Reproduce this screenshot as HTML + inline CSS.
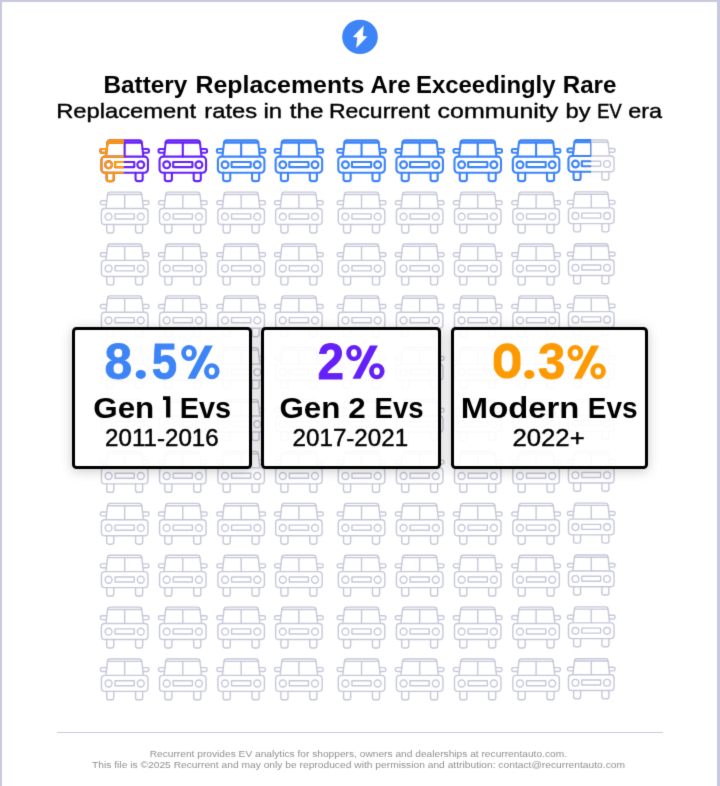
<!DOCTYPE html>
<html><head><meta charset="utf-8">
<style>
html,body{margin:0;padding:0;background:#fff;}
body{width:720px;height:786px;position:relative;overflow:hidden;font-family:"Liberation Sans",sans-serif;color:#000;}
svg{position:absolute;left:0;top:0;}
text{font-family:"Liberation Sans",sans-serif;white-space:pre;}
.bl{position:absolute;left:0;top:0;width:2.4px;height:786px;background:#c8c9dc;}
.bt{position:absolute;left:0;top:0;width:720px;height:2.3px;background:#c8c9dc;}
.br{position:absolute;right:0;top:0;width:2.8px;height:786px;background:#c8c9dc;}
.box{position:absolute;top:327px;height:142px;box-sizing:border-box;border:3px solid #000;border-radius:4.5px;background:rgba(255,255,255,0.9);box-shadow:0 2px 12px rgba(0,0,0,0.21);}
.ln{position:absolute;left:56.7px;top:731.7px;width:606.5px;height:1.5px;background:#c8c9dc;}
</style></head><body>
<svg width="0" height="0" style="position:absolute"><filter id="sb" x="0" y="0" width="100%" height="100%" color-interpolation-filters="sRGB"><feConvolveMatrix order="3" kernelMatrix="0.0183 0.1353 0.0183 0.1353 1.0000 0.1353 0.0183 0.1353 0.0183" edgeMode="duplicate" preserveAlpha="true"/></filter></svg>
<div id="wrap" style="position:absolute;left:0;top:0;width:720px;height:786px;overflow:hidden;background:#fff;filter:url(#sb)">
<svg width="720" height="786" viewBox="0 0 720 786">
<defs>
<g id="car" fill="none" stroke-linecap="round" stroke-linejoin="round"><path d="M6.55 16 L8 3.4 Q8.2 0.6 10.6 0.6 L39.8 0.6 Q42.2 0.6 42.4 3.4 L43.85 16"/><path d="M8.1 2.95 H42.3 M25.2 2.95 V16.9"/><path d="M7.2 9.25 H2.3 Q0.95 9.25 0.95 10.6 V11.7 Q0.95 13.05 2.3 13.05 H6.75 M43.2 9.25 H48.1 Q49.45 9.25 49.45 10.6 V11.7 Q49.45 13.05 48.1 13.05 H43.65"/><rect x="1.95" y="16.95" width="46.5" height="16.05" rx="3.4"/><circle cx="9.1" cy="25.1" r="3.45"/><circle cx="41.3" cy="25.1" r="3.45"/><rect x="15.6" y="22.3" width="19.2" height="5.1"/><path d="M7.2 33.0 V39.3 Q7.2 41.4 9.3 41.4 H12.2 Q14.3 41.4 14.3 39.3 V33.0 M36.1 33.0 V39.3 Q36.1 41.4 38.2 41.4 H41.1 Q43.2 41.4 43.2 39.3 V33.0"/></g>
<rect id="roof" x="8" y="0.6" width="34.4" height="2.35" rx="0.8" stroke="none"/>
<clipPath id="clipL"><rect x="-2" y="-2" width="26.4" height="50"/></clipPath>
<clipPath id="clipR"><rect x="-2" y="-2" width="27.1" height="50"/></clipPath>
</defs>
<ellipse cx="360" cy="36.9" rx="17.85" ry="17.2" fill="#3d84f7"/>
<path d="M363.7 25.6 L352.8 36.9 L357.3 37.4 L356.2 47.9 L367.4 36.4 L362.9 35.9 Z" fill="#fff"/>
<g transform="translate(99.47 139.70)" stroke="#6520f9" stroke-width="2.1" ><use href="#car"/><use href="#roof" fill="#6520f9" fill-opacity="0.6"/></g>
<g transform="translate(99.47 139.70)" stroke="#fd9a02" stroke-width="2.1" clip-path="url(#clipL)"><use href="#car"/><use href="#roof" fill="#fd9a02" fill-opacity="0.6"/></g>
<g transform="translate(157.60 139.70)" stroke="#6520f9" stroke-width="2.1" ><use href="#car"/><use href="#roof" fill="#6520f9" fill-opacity="0.6"/></g>
<g transform="translate(215.95 139.70)" stroke="#3d84f7" stroke-width="2.1" ><use href="#car"/><use href="#roof" fill="#3d84f7" fill-opacity="0.6"/></g>
<g transform="translate(273.70 139.70)" stroke="#3d84f7" stroke-width="2.1" ><use href="#car"/><use href="#roof" fill="#3d84f7" fill-opacity="0.6"/></g>
<g transform="translate(336.35 139.70)" stroke="#3d84f7" stroke-width="2.1" ><use href="#car"/><use href="#roof" fill="#3d84f7" fill-opacity="0.6"/></g>
<g transform="translate(394.47 139.70)" stroke="#3d84f7" stroke-width="2.1" ><use href="#car"/><use href="#roof" fill="#3d84f7" fill-opacity="0.6"/></g>
<g transform="translate(452.55 139.70)" stroke="#3d84f7" stroke-width="2.1" ><use href="#car"/><use href="#roof" fill="#3d84f7" fill-opacity="0.6"/></g>
<g transform="translate(510.90 139.70)" stroke="#3d84f7" stroke-width="2.1" ><use href="#car"/><use href="#roof" fill="#3d84f7" fill-opacity="0.6"/></g>
<g transform="translate(566.55 139.42) scale(0.98)" stroke="#c6c8d9" stroke-width="1.429" ><use href="#car"/></g>
<g transform="translate(566.55 139.42) scale(0.98)" stroke="#3d84f7" stroke-width="2.143" clip-path="url(#clipR)"><use href="#car"/><use href="#roof" fill="#3d84f7" fill-opacity="0.6"/></g>
<g transform="translate(99.47 191.57)" stroke="#c6c8d9" stroke-width="1.4" ><use href="#car"/></g>
<g transform="translate(157.60 191.57)" stroke="#c6c8d9" stroke-width="1.4" ><use href="#car"/></g>
<g transform="translate(215.95 191.57)" stroke="#c6c8d9" stroke-width="1.4" ><use href="#car"/></g>
<g transform="translate(273.70 191.57)" stroke="#c6c8d9" stroke-width="1.4" ><use href="#car"/></g>
<g transform="translate(336.35 191.57)" stroke="#c6c8d9" stroke-width="1.4" ><use href="#car"/></g>
<g transform="translate(394.47 191.57)" stroke="#c6c8d9" stroke-width="1.4" ><use href="#car"/></g>
<g transform="translate(452.55 191.57)" stroke="#c6c8d9" stroke-width="1.4" ><use href="#car"/></g>
<g transform="translate(510.90 191.57)" stroke="#c6c8d9" stroke-width="1.4" ><use href="#car"/></g>
<g transform="translate(566.55 191.29) scale(0.98)" stroke="#c6c8d9" stroke-width="1.429" ><use href="#car"/></g>
<g transform="translate(99.47 243.44)" stroke="#c6c8d9" stroke-width="1.4" ><use href="#car"/></g>
<g transform="translate(157.60 243.44)" stroke="#c6c8d9" stroke-width="1.4" ><use href="#car"/></g>
<g transform="translate(215.95 243.44)" stroke="#c6c8d9" stroke-width="1.4" ><use href="#car"/></g>
<g transform="translate(273.70 243.44)" stroke="#c6c8d9" stroke-width="1.4" ><use href="#car"/></g>
<g transform="translate(336.35 243.44)" stroke="#c6c8d9" stroke-width="1.4" ><use href="#car"/></g>
<g transform="translate(394.47 243.44)" stroke="#c6c8d9" stroke-width="1.4" ><use href="#car"/></g>
<g transform="translate(452.55 243.44)" stroke="#c6c8d9" stroke-width="1.4" ><use href="#car"/></g>
<g transform="translate(510.90 243.44)" stroke="#c6c8d9" stroke-width="1.4" ><use href="#car"/></g>
<g transform="translate(566.55 243.16) scale(0.98)" stroke="#c6c8d9" stroke-width="1.429" ><use href="#car"/></g>
<g transform="translate(99.47 295.31)" stroke="#c6c8d9" stroke-width="1.4" ><use href="#car"/></g>
<g transform="translate(157.60 295.31)" stroke="#c6c8d9" stroke-width="1.4" ><use href="#car"/></g>
<g transform="translate(215.95 295.31)" stroke="#c6c8d9" stroke-width="1.4" ><use href="#car"/></g>
<g transform="translate(273.70 295.31)" stroke="#c6c8d9" stroke-width="1.4" ><use href="#car"/></g>
<g transform="translate(336.35 295.31)" stroke="#c6c8d9" stroke-width="1.4" ><use href="#car"/></g>
<g transform="translate(394.47 295.31)" stroke="#c6c8d9" stroke-width="1.4" ><use href="#car"/></g>
<g transform="translate(452.55 295.31)" stroke="#c6c8d9" stroke-width="1.4" ><use href="#car"/></g>
<g transform="translate(510.90 295.31)" stroke="#c6c8d9" stroke-width="1.4" ><use href="#car"/></g>
<g transform="translate(566.55 295.03) scale(0.98)" stroke="#c6c8d9" stroke-width="1.429" ><use href="#car"/></g>
<g transform="translate(99.47 347.18)" stroke="#c6c8d9" stroke-width="1.4" ><use href="#car"/></g>
<g transform="translate(157.60 347.18)" stroke="#c6c8d9" stroke-width="1.4" ><use href="#car"/></g>
<g transform="translate(215.95 347.18)" stroke="#c6c8d9" stroke-width="1.4" ><use href="#car"/></g>
<g transform="translate(273.70 347.18)" stroke="#c6c8d9" stroke-width="1.4" ><use href="#car"/></g>
<g transform="translate(336.35 347.18)" stroke="#c6c8d9" stroke-width="1.4" ><use href="#car"/></g>
<g transform="translate(394.47 347.18)" stroke="#c6c8d9" stroke-width="1.4" ><use href="#car"/></g>
<g transform="translate(452.55 347.18)" stroke="#c6c8d9" stroke-width="1.4" ><use href="#car"/></g>
<g transform="translate(510.90 347.18)" stroke="#c6c8d9" stroke-width="1.4" ><use href="#car"/></g>
<g transform="translate(566.55 346.90) scale(0.98)" stroke="#c6c8d9" stroke-width="1.429" ><use href="#car"/></g>
<g transform="translate(99.47 399.05)" stroke="#c6c8d9" stroke-width="1.4" ><use href="#car"/></g>
<g transform="translate(157.60 399.05)" stroke="#c6c8d9" stroke-width="1.4" ><use href="#car"/></g>
<g transform="translate(215.95 399.05)" stroke="#c6c8d9" stroke-width="1.4" ><use href="#car"/></g>
<g transform="translate(273.70 399.05)" stroke="#c6c8d9" stroke-width="1.4" ><use href="#car"/></g>
<g transform="translate(336.35 399.05)" stroke="#c6c8d9" stroke-width="1.4" ><use href="#car"/></g>
<g transform="translate(394.47 399.05)" stroke="#c6c8d9" stroke-width="1.4" ><use href="#car"/></g>
<g transform="translate(452.55 399.05)" stroke="#c6c8d9" stroke-width="1.4" ><use href="#car"/></g>
<g transform="translate(510.90 399.05)" stroke="#c6c8d9" stroke-width="1.4" ><use href="#car"/></g>
<g transform="translate(566.55 398.77) scale(0.98)" stroke="#c6c8d9" stroke-width="1.429" ><use href="#car"/></g>
<g transform="translate(99.47 450.92)" stroke="#c6c8d9" stroke-width="1.4" ><use href="#car"/></g>
<g transform="translate(157.60 450.92)" stroke="#c6c8d9" stroke-width="1.4" ><use href="#car"/></g>
<g transform="translate(215.95 450.92)" stroke="#c6c8d9" stroke-width="1.4" ><use href="#car"/></g>
<g transform="translate(273.70 450.92)" stroke="#c6c8d9" stroke-width="1.4" ><use href="#car"/></g>
<g transform="translate(336.35 450.92)" stroke="#c6c8d9" stroke-width="1.4" ><use href="#car"/></g>
<g transform="translate(394.47 450.92)" stroke="#c6c8d9" stroke-width="1.4" ><use href="#car"/></g>
<g transform="translate(452.55 450.92)" stroke="#c6c8d9" stroke-width="1.4" ><use href="#car"/></g>
<g transform="translate(510.90 450.92)" stroke="#c6c8d9" stroke-width="1.4" ><use href="#car"/></g>
<g transform="translate(566.55 450.64) scale(0.98)" stroke="#c6c8d9" stroke-width="1.429" ><use href="#car"/></g>
<g transform="translate(99.47 502.79)" stroke="#c6c8d9" stroke-width="1.4" ><use href="#car"/></g>
<g transform="translate(157.60 502.79)" stroke="#c6c8d9" stroke-width="1.4" ><use href="#car"/></g>
<g transform="translate(215.95 502.79)" stroke="#c6c8d9" stroke-width="1.4" ><use href="#car"/></g>
<g transform="translate(273.70 502.79)" stroke="#c6c8d9" stroke-width="1.4" ><use href="#car"/></g>
<g transform="translate(336.35 502.79)" stroke="#c6c8d9" stroke-width="1.4" ><use href="#car"/></g>
<g transform="translate(394.47 502.79)" stroke="#c6c8d9" stroke-width="1.4" ><use href="#car"/></g>
<g transform="translate(452.55 502.79)" stroke="#c6c8d9" stroke-width="1.4" ><use href="#car"/></g>
<g transform="translate(510.90 502.79)" stroke="#c6c8d9" stroke-width="1.4" ><use href="#car"/></g>
<g transform="translate(566.55 502.51) scale(0.98)" stroke="#c6c8d9" stroke-width="1.429" ><use href="#car"/></g>
<g transform="translate(99.47 554.66)" stroke="#c6c8d9" stroke-width="1.4" ><use href="#car"/></g>
<g transform="translate(157.60 554.66)" stroke="#c6c8d9" stroke-width="1.4" ><use href="#car"/></g>
<g transform="translate(215.95 554.66)" stroke="#c6c8d9" stroke-width="1.4" ><use href="#car"/></g>
<g transform="translate(273.70 554.66)" stroke="#c6c8d9" stroke-width="1.4" ><use href="#car"/></g>
<g transform="translate(336.35 554.66)" stroke="#c6c8d9" stroke-width="1.4" ><use href="#car"/></g>
<g transform="translate(394.47 554.66)" stroke="#c6c8d9" stroke-width="1.4" ><use href="#car"/></g>
<g transform="translate(452.55 554.66)" stroke="#c6c8d9" stroke-width="1.4" ><use href="#car"/></g>
<g transform="translate(510.90 554.66)" stroke="#c6c8d9" stroke-width="1.4" ><use href="#car"/></g>
<g transform="translate(566.55 554.38) scale(0.98)" stroke="#c6c8d9" stroke-width="1.429" ><use href="#car"/></g>
<g transform="translate(99.47 606.53)" stroke="#c6c8d9" stroke-width="1.4" ><use href="#car"/></g>
<g transform="translate(157.60 606.53)" stroke="#c6c8d9" stroke-width="1.4" ><use href="#car"/></g>
<g transform="translate(215.95 606.53)" stroke="#c6c8d9" stroke-width="1.4" ><use href="#car"/></g>
<g transform="translate(273.70 606.53)" stroke="#c6c8d9" stroke-width="1.4" ><use href="#car"/></g>
<g transform="translate(336.35 606.53)" stroke="#c6c8d9" stroke-width="1.4" ><use href="#car"/></g>
<g transform="translate(394.47 606.53)" stroke="#c6c8d9" stroke-width="1.4" ><use href="#car"/></g>
<g transform="translate(452.55 606.53)" stroke="#c6c8d9" stroke-width="1.4" ><use href="#car"/></g>
<g transform="translate(510.90 606.53)" stroke="#c6c8d9" stroke-width="1.4" ><use href="#car"/></g>
<g transform="translate(566.55 606.25) scale(0.98)" stroke="#c6c8d9" stroke-width="1.429" ><use href="#car"/></g>
<g transform="translate(99.47 658.40)" stroke="#c6c8d9" stroke-width="1.4" ><use href="#car"/></g>
<g transform="translate(157.60 658.40)" stroke="#c6c8d9" stroke-width="1.4" ><use href="#car"/></g>
<g transform="translate(215.95 658.40)" stroke="#c6c8d9" stroke-width="1.4" ><use href="#car"/></g>
<g transform="translate(273.70 658.40)" stroke="#c6c8d9" stroke-width="1.4" ><use href="#car"/></g>
<g transform="translate(336.35 658.40)" stroke="#c6c8d9" stroke-width="1.4" ><use href="#car"/></g>
<g transform="translate(394.47 658.40)" stroke="#c6c8d9" stroke-width="1.4" ><use href="#car"/></g>
<g transform="translate(452.55 658.40)" stroke="#c6c8d9" stroke-width="1.4" ><use href="#car"/></g>
<g transform="translate(510.90 658.40)" stroke="#c6c8d9" stroke-width="1.4" ><use href="#car"/></g>
<g transform="translate(566.55 658.12) scale(0.98)" stroke="#c6c8d9" stroke-width="1.429" ><use href="#car"/></g>
</svg>
<div class="bt"></div><div class="bl"></div><div class="br"></div>
<div class="box" style="left:72px;width:180px"></div>
<div class="box" style="left:261px;width:180px"></div>
<div class="box" style="left:451px;width:197px"></div>
<div class="ln"></div>
<svg width="720" height="786" viewBox="0 0 720 786" style="will-change:transform">
<text id="t1w0" transform="translate(103.48 92.90) scale(1.0582 1)" font-weight="bold" font-size="23" fill="#000">Battery</text>
<text id="t1w1" transform="translate(195.44 92.90) scale(1.0828 1)" font-weight="bold" font-size="23" fill="#000">Replacements</text>
<text id="t1w2" transform="translate(370.42 92.90) scale(1.0476 1)" font-weight="bold" font-size="23" fill="#000">Are</text>
<text id="t1w3" transform="translate(416.00 92.90) scale(1.0404 1)" font-weight="bold" font-size="23" fill="#000">Exceedingly</text>
<text id="t1w4" transform="translate(562.69 92.90) scale(1.0502 1)" font-weight="bold" font-size="23" fill="#000">Rare</text>
<text id="t2w0" transform="translate(56.14 117.60) scale(1.1597 1)" font-weight="normal" font-size="20.5" fill="#000" stroke="#000" stroke-width="0.388" stroke-linejoin="round">Replacement</text>
<text id="t2w1" transform="translate(204.32 117.60) scale(1.1569 1)" font-weight="normal" font-size="20.5" fill="#000" stroke="#000" stroke-width="0.389" stroke-linejoin="round">rates</text>
<text id="t2w2" transform="translate(263.50 117.60) scale(1.1684 1)" font-weight="normal" font-size="20.5" fill="#000" stroke="#000" stroke-width="0.385" stroke-linejoin="round">in</text>
<text id="t2w3" transform="translate(289.70 117.60) scale(1.1855 1)" font-weight="normal" font-size="20.5" fill="#000" stroke="#000" stroke-width="0.380" stroke-linejoin="round">the</text>
<text id="t2w4" transform="translate(329.00 117.60) scale(1.1212 1)" font-weight="normal" font-size="20.5" fill="#000" stroke="#000" stroke-width="0.401" stroke-linejoin="round">Recurrent</text>
<text id="t2w5" transform="translate(437.52 117.60) scale(1.2187 1)" font-weight="normal" font-size="20.5" fill="#000" stroke="#000" stroke-width="0.369" stroke-linejoin="round">community</text>
<text id="t2w6" transform="translate(565.52 117.60) scale(1.1586 1)" font-weight="normal" font-size="20.5" fill="#000" stroke="#000" stroke-width="0.388" stroke-linejoin="round">by</text>
<text id="t2w7" transform="translate(597.37 117.60) scale(0.8938 1)" font-weight="normal" font-size="20.5" fill="#000" stroke="#000" stroke-width="0.503" stroke-linejoin="round">EV</text>
<text id="t2w8" transform="translate(628.27 117.60) scale(1.1436 1)" font-weight="normal" font-size="20.5" fill="#000" stroke="#000" stroke-width="0.393" stroke-linejoin="round">era</text>
<text id="p1a" transform="translate(104.55 378.60) scale(0.9900 1)" font-weight="bold" font-size="50" fill="#3d84f7" stroke="#3d84f7" stroke-width="0.808" stroke-linejoin="round">8</text>
<text id="p1c" transform="translate(151.79 378.60) scale(0.9115 1)" font-weight="bold" font-size="50" fill="#3d84f7" stroke="#3d84f7" stroke-width="0.878" stroke-linejoin="round">5</text>
<text id="p2a" transform="translate(317.41 378.60) scale(0.9520 1)" font-weight="bold" font-size="50" fill="#6520f9" stroke="#6520f9" stroke-width="0.840" stroke-linejoin="round">2</text>
<text id="p3c" transform="translate(537.93 378.60) scale(0.9813 1)" font-weight="bold" font-size="50" fill="#fd9a02" stroke="#fd9a02" stroke-width="0.815" stroke-linejoin="round">3</text>
<text id="g1w0" transform="translate(93.22 417.60) scale(1.0472 1)" font-weight="bold" font-size="30" fill="#000">Gen</text>
<text id="g1w2" transform="translate(179.80 417.60) scale(0.9625 1)" font-weight="bold" font-size="30" fill="#000">Evs</text>
<text id="g2w0" transform="translate(279.52 417.60) scale(1.0437 1)" font-weight="bold" font-size="30" fill="#000">Gen</text>
<text id="g2w1" transform="translate(348.32 417.60) scale(1.0467 1)" font-weight="bold" font-size="30" fill="#000">2</text>
<text id="g2w2" transform="translate(374.47 417.60) scale(0.9207 1)" font-weight="bold" font-size="30" fill="#000">Evs</text>
<text id="g3w0" transform="translate(460.85 417.60) scale(1.0933 1)" font-weight="bold" font-size="30" fill="#000">Modern</text>
<text id="g3w1" transform="translate(587.85 417.60) scale(0.9326 1)" font-weight="bold" font-size="30" fill="#000">Evs</text>
<text id="y1" transform="translate(105.07 445.80) scale(1.0492 1)" font-weight="normal" font-size="23" fill="#000" stroke="#000" stroke-width="0.429" stroke-linejoin="round">2011-2016</text>
<text id="y2" transform="translate(292.57 445.80) scale(1.0511 1)" font-weight="normal" font-size="23" fill="#000" stroke="#000" stroke-width="0.428" stroke-linejoin="round">2017-2021</text>
<text id="y3" transform="translate(512.39 445.80) scale(1.1202 1)" font-weight="normal" font-size="23" fill="#000" stroke="#000" stroke-width="0.402" stroke-linejoin="round">2022+</text>
<text id="f1" transform="translate(149.70 757.10) scale(1.1323 1)" font-weight="normal" font-size="9" fill="#909090">Recurrent provides EV analytics for shoppers, owners and dealerships at recurrentauto.com.</text>
<text id="f2" transform="translate(92.04 767.60) scale(1.1399 1)" font-weight="normal" font-size="9" fill="#909090">This file is ©2025 Recurrent and may only be reproduced with permission and attribution: contact@recurrentauto.com</text>
<path d="M506.90 343.20 H507.30 A13.2 13.5 0 0 1 520.50 356.70 V365.10 A13.2 13.5 0 0 1 507.30 378.60 H506.90 A13.2 13.5 0 0 1 493.70 365.10 V356.70 A13.2 13.5 0 0 1 506.90 343.20 Z M507.00 350.40 A5.5 7.5 0 0 0 501.50 357.90 V364.10 A5.5 7.5 0 0 0 507.00 371.60 H507.00 A5.5 7.5 0 0 0 512.50 364.10 V357.90 A5.5 7.5 0 0 0 507.00 350.40 Z " fill="#fd9a02"/>
<path d="M181.20 353.00 a7.8 8 0 1 0 15.6 0 a7.8 8 0 1 0 -15.6 0 Z M186.00 353.00 a3 3.7 0 1 1 6 0 a3 3.7 0 1 1 -6 0 Z M204.00 371.25 a7.8 8 0 1 0 15.6 0 a7.8 8 0 1 0 -15.6 0 Z M208.80 371.25 a3 3.7 0 1 1 6 0 a3 3.7 0 1 1 -6 0 Z M205.00 345.4 L212.90 345.4 L195.40 378.7 L187.50 378.7 Z" fill="#3d84f7" fill-rule="evenodd"/>
<path d="M346.20 353.00 a7.8 8 0 1 0 15.6 0 a7.8 8 0 1 0 -15.6 0 Z M351.00 353.00 a3 3.7 0 1 1 6 0 a3 3.7 0 1 1 -6 0 Z M369.00 371.25 a7.8 8 0 1 0 15.6 0 a7.8 8 0 1 0 -15.6 0 Z M373.80 371.25 a3 3.7 0 1 1 6 0 a3 3.7 0 1 1 -6 0 Z M370.00 345.4 L377.90 345.4 L360.40 378.7 L352.50 378.7 Z" fill="#6520f9" fill-rule="evenodd"/>
<path d="M567.50 353.00 a7.8 8 0 1 0 15.6 0 a7.8 8 0 1 0 -15.6 0 Z M572.30 353.00 a3 3.7 0 1 1 6 0 a3 3.7 0 1 1 -6 0 Z M590.30 371.25 a7.8 8 0 1 0 15.6 0 a7.8 8 0 1 0 -15.6 0 Z M595.10 371.25 a3 3.7 0 1 1 6 0 a3 3.7 0 1 1 -6 0 Z M591.30 345.4 L599.20 345.4 L581.70 378.7 L573.80 378.7 Z" fill="#fd9a02" fill-rule="evenodd"/>
<path d="M163 396.2 H170.3 V417.6 H166.1 V400 H163 Z" fill="#000"/>
<ellipse cx="140.8" cy="374.4" rx="5.1" ry="4.5" fill="#3d84f7"/>
<ellipse cx="529.3" cy="374.4" rx="5.1" ry="4.5" fill="#fd9a02"/>
</svg>
</div>
</body></html>
